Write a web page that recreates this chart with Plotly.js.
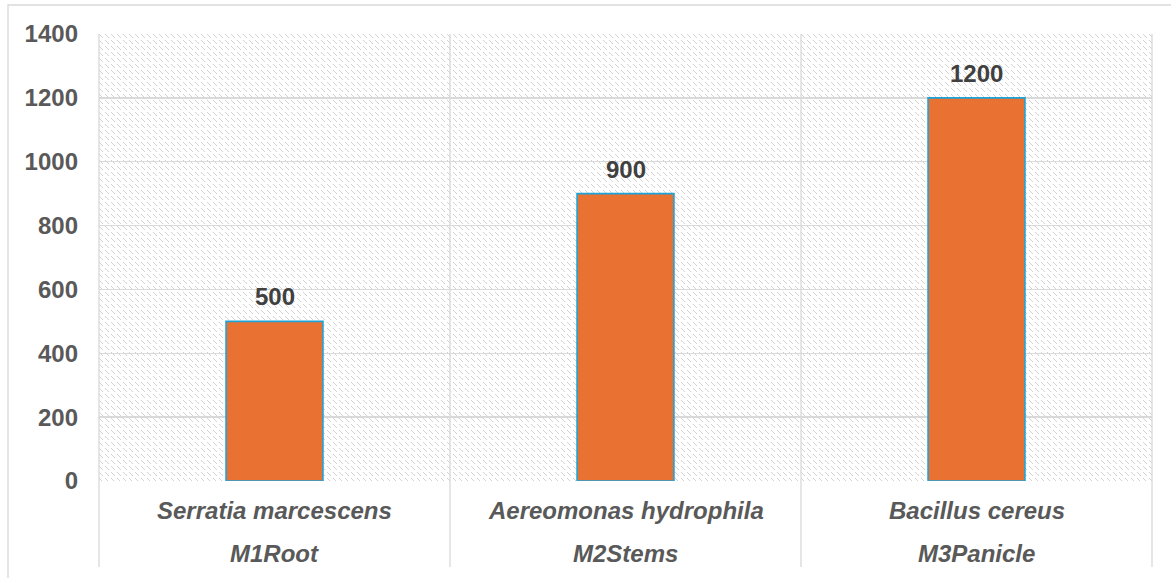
<!DOCTYPE html>
<html>
<head>
<meta charset="utf-8">
<script src="https://cdn.plot.ly/plotly-3.0.1.min.js"></script>
<style>
  html, body { margin: 0; padding: 0; background: #ffffff; }
  #chart { width: 1171px; height: 578px; }
</style>
</head>
<body>
<div id="chart"></div>
<script>
// Bacterial isolates per plant part
const species = ["Serratia marcescens", "Aereomonas hydrophila", "Bacillus cereus"];
const parts = ["M1Root", "M2Stems", "M3Panicle"];
const counts = [500, 900, 1200];

const W = 1171, H = 578;
const margin = { l: 99, r: 19, t: 34, b: 97 };
const plotW = W - margin.l - margin.r;
const plotH = H - margin.t - margin.b;
const FONT = 'Liberation Sans, Arial, sans-serif';

// Pixel-level diagonal hatch used as the plot-area fill
const hatchPixels = [[0, 0], [1, 1], [2, 2], [3, 3]];
const hatchSvg =
  '<svg xmlns="http://www.w3.org/2000/svg" width="' + plotW + '" height="' + plotH + '" ' +
  'viewBox="0 0 ' + plotW + ' ' + plotH + '" shape-rendering="crispEdges">' +
  '<defs><pattern id="h" width="6" height="6" patternUnits="userSpaceOnUse">' +
  hatchPixels.map(p => '<rect x="' + p[0] + '" y="' + p[1] + '" width="1" height="1" fill="#d2d2d2"/>').join('') +
  '</pattern></defs>' +
  '<rect width="100%" height="100%" fill="url(#h)"/></svg>';

const n = species.length;
const dividerBottom = -86 / plotH;   // dividers run down through the label band
const shapes = [];
for (let i = 0; i <= n; i++) {
  shapes.push({
    type: 'line', xref: 'paper', yref: 'paper',
    x0: i / n, x1: i / n, y0: dividerBottom, y1: 1,
    line: { color: '#d9d9d9', width: 1.3 }, layer: 'below'
  });
}
// Outer chart frame
shapes.push({
  type: 'rect', xref: 'paper', yref: 'paper',
  x0: (8 - margin.l) / plotW, x1: 1 + 40 / plotW,
  y0: -200 / plotH, y1: 1 + 29 / plotH,
  line: { color: '#d9d9d9', width: 1.3 }, fillcolor: 'rgba(0,0,0,0)', layer: 'below'
});

const annotations = [];
for (let i = 0; i < n; i++) {
  // value label above each bar
  annotations.push({
    x: i, y: counts[i], xref: 'x', yref: 'y',
    text: String(counts[i]), showarrow: false,
    yanchor: 'bottom', yshift: 9,
    font: { family: FONT, size: 24, color: '#404040', weight: 'bold' }
  });
  // two-line category label
  annotations.push({
    x: i, y: 0, xref: 'x', yref: 'paper',
    text: '<b><i>' + species[i] + '</i></b>', showarrow: false,
    yanchor: 'middle', yshift: -29,
    font: { family: FONT, size: 24, color: '#595959' }
  });
  annotations.push({
    x: i, y: 0, xref: 'x', yref: 'paper',
    text: '<b><i>' + parts[i] + '</i></b>', showarrow: false,
    yanchor: 'middle', yshift: -72,
    font: { family: FONT, size: 24, color: '#595959' }
  });
}

const trace = {
  type: 'bar',
  x: [0, 1, 2],
  y: counts,
  width: 0.276,
  marker: { color: '#E97132', line: { color: '#1EA3D8', width: 1.6 } },
  hoverinfo: 'skip'
};

const layout = {
  width: W, height: H,
  margin: margin,
  paper_bgcolor: '#ffffff',
  plot_bgcolor: '#ffffff',
  showlegend: false,
  font: { family: FONT },
  xaxis: {
    range: [-0.5, n - 0.5],
    showticklabels: false, showgrid: false, zeroline: false, showline: false,
    ticks: '', fixedrange: true
  },
  yaxis: {
    range: [0, 1400], dtick: 200, tick0: 0,
    showgrid: true, gridcolor: '#d9d9d9', gridwidth: 1.3,
    zeroline: false, showline: false, ticks: '',
    ticklabelstandoff: 20,
    tickfont: { family: FONT, size: 24, color: '#595959', weight: 'bold' },
    fixedrange: true
  },
  images: [{
    source: 'data:image/svg+xml;charset=utf-8,' + encodeURIComponent(hatchSvg),
    xref: 'paper', yref: 'paper', x: 0, y: 1, sizex: 1, sizey: 1,
    xanchor: 'left', yanchor: 'top', sizing: 'stretch', layer: 'below'
  }],
  shapes: shapes,
  annotations: annotations
};

Plotly.newPlot('chart', [trace], layout, { staticPlot: true, displayModeBar: false });
</script>
</body>
</html>
